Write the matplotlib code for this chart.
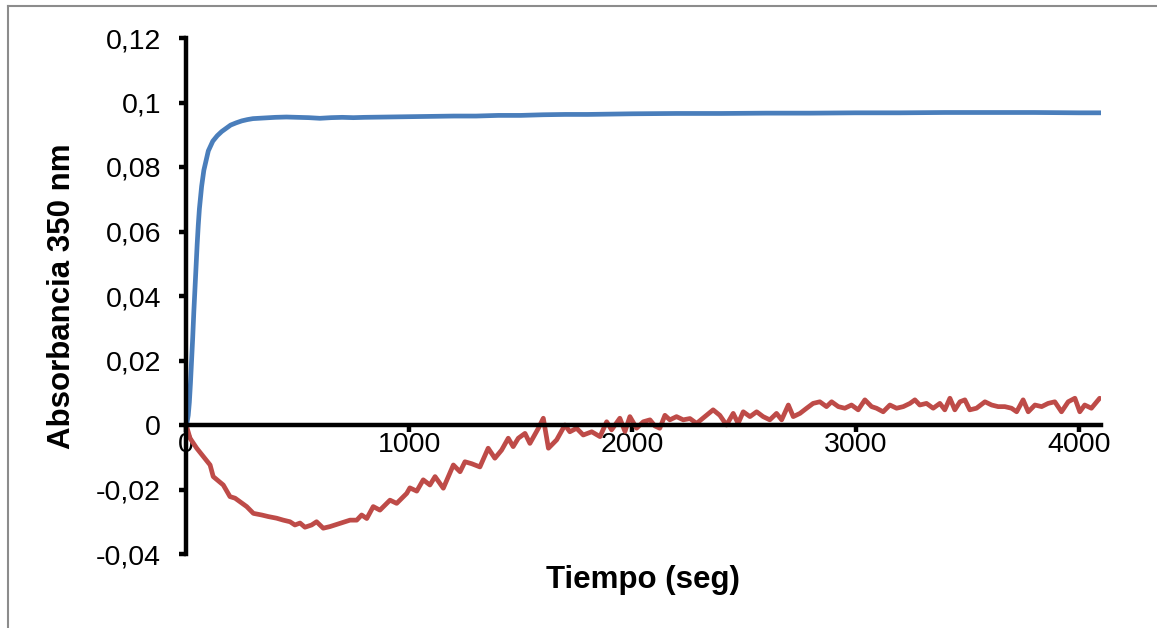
import matplotlib
matplotlib.use("Agg")
import matplotlib.pyplot as plt
from matplotlib.lines import Line2D
import numpy as np

# ---- data ----
blue_t = [0, 5, 10, 15, 20, 25, 30, 35, 40, 45, 50, 55, 60, 70, 80, 90, 100, 120, 140, 160, 180,
          200, 225, 250, 275, 300, 350, 400, 450, 500, 550, 600, 650, 700, 750, 800, 900, 1000,
          1100, 1200, 1300, 1400, 1500, 1600, 1700, 1800, 1900, 2000, 2200, 2400, 2600, 2800,
          3000, 3200, 3400, 3600, 3800, 4000, 4100]
blue_a = [0.0, 0.001, 0.003, 0.007, 0.013, 0.020, 0.027, 0.035, 0.042, 0.049, 0.056, 0.062, 0.067,
          0.074, 0.079, 0.082, 0.085, 0.088, 0.0897, 0.091, 0.092, 0.093, 0.0937, 0.0943, 0.0947,
          0.0950, 0.0952, 0.0954, 0.0955, 0.0954, 0.0953, 0.0951, 0.0953, 0.0954, 0.0953, 0.0954,
          0.0955, 0.0956, 0.0957, 0.0958, 0.0958, 0.0960, 0.0960, 0.0962, 0.0963, 0.0963, 0.0964,
          0.0965, 0.0966, 0.0966, 0.0967, 0.0967, 0.0968, 0.0968, 0.0969, 0.0969, 0.0969, 0.0968,
          0.0968]

red_t = [0, 3, 18, 48, 78, 108, 122, 167, 197, 220, 242, 272, 302, 339, 369, 406, 436, 466, 488,
         511, 533, 563, 585, 615, 645, 690, 735, 765, 787, 810, 839, 869, 914, 944, 989, 1003,
         1034, 1063, 1093, 1116, 1153, 1198, 1228, 1250, 1280, 1317, 1354, 1384, 1414, 1444, 1466,
         1489, 1519, 1541, 1579, 1601, 1624, 1661, 1698, 1720, 1750, 1780, 1818, 1855, 1885, 1907,
         1944, 1967, 1989, 2019, 2049, 2079, 2101, 2123, 2146, 2168, 2198, 2228, 2258, 2288, 2325,
         2362, 2392, 2422, 2452, 2474, 2497, 2527, 2557, 2586, 2616, 2646, 2669, 2699, 2721, 2751,
         2781, 2810, 2840, 2870, 2893, 2923, 2952, 2982, 3012, 3042, 3072, 3094, 3124, 3154, 3184,
         3214, 3244, 3266, 3288, 3318, 3348, 3378, 3400, 3423, 3445, 3468, 3490, 3512, 3542, 3580,
         3610, 3639, 3669, 3699, 3722, 3751, 3774, 3804, 3834, 3863, 3893, 3923, 3953, 3983, 4005,
         4027, 4057, 4094]
red_a = [0.0, -0.0005, -0.0041, -0.0072, -0.0098, -0.0124, -0.0160, -0.0186, -0.0222, -0.0227,
         -0.0238, -0.0253, -0.0274, -0.0279, -0.0284, -0.0289, -0.0295, -0.0300, -0.0310, -0.0304,
         -0.0317, -0.0310, -0.0300, -0.0320, -0.0315, -0.0305, -0.0295, -0.0295, -0.0279, -0.0290,
         -0.0253, -0.0264, -0.0233, -0.0243, -0.0212, -0.0195, -0.0205, -0.0170, -0.0186, -0.0160,
         -0.0196, -0.0124, -0.0145, -0.0114, -0.0120, -0.0130, -0.0072, -0.0103, -0.0078, -0.0041,
         -0.0067, -0.0041, -0.0026, -0.0057, -0.0010, 0.0021, -0.0072, -0.0046, 0.0000, -0.0021,
         -0.0010, -0.0031, -0.0021, -0.0036, 0.0010, -0.0015, 0.0021, -0.0020, 0.0026, -0.0010,
         0.0010, 0.0016, -0.0003, -0.0010, 0.0030, 0.0016, 0.0026, 0.0016, 0.0020, 0.0005, 0.0026,
         0.0047, 0.0030, 0.0000, 0.0036, 0.0005, 0.0041, 0.0026, 0.0041, 0.0026, 0.0016, 0.0036,
         0.0016, 0.0062, 0.0026, 0.0036, 0.0052, 0.0067, 0.0072, 0.0057, 0.0072, 0.0057, 0.0052,
         0.0062, 0.0047, 0.0078, 0.0057, 0.0052, 0.0041, 0.0062, 0.0052, 0.0057, 0.0067, 0.0078,
         0.0062, 0.0067, 0.0052, 0.0067, 0.0047, 0.0083, 0.0047, 0.0072, 0.0078, 0.0047, 0.0052,
         0.0072, 0.0062, 0.0057, 0.0057, 0.0052, 0.0041, 0.0078, 0.0041, 0.0062, 0.0057, 0.0067,
         0.0072, 0.0041, 0.0072, 0.0083, 0.0041, 0.0062, 0.0052, 0.0083]

x_ticks = [0, 1000, 2000, 3000, 4000]
x_tick_labels = ["0", "1000", "2000", "3000", "4000"]
y_ticks = [-0.04, -0.02, 0.0, 0.02, 0.04, 0.06, 0.08, 0.10, 0.12]
y_tick_labels = ["-0,04", "-0,02", "0", "0,02", "0,04", "0,06", "0,08", "0,1", "0,12"]
x_label = "Tiempo (seg)"
y_label = "Absorbancia 350 nm"

# ---- figure ----
plt.rcParams['font.family'] = ['Liberation Sans', 'DejaVu Sans']
W, H = 1157, 628
fig = plt.figure(figsize=(W / 100, H / 100), dpi=100)
fig.patch.set_facecolor('white')

# gray outer frame (top and left edges visible)
fig.add_artist(Line2D([7.5 / W, 1.0], [1 - 5.5 / H, 1 - 5.5 / H], transform=fig.transFigure,
                      color='#8c8c8c', lw=1.5))
fig.add_artist(Line2D([7.5 / W, 7.5 / W], [0.0, 1 - 5.5 / H], transform=fig.transFigure,
                      color='#8c8c8c', lw=1.5))

left, right, top, bottom = 186, 1101, 38, 554
ax = fig.add_axes([left / W, 1 - bottom / H, (right - left) / W, (bottom - top) / H])
ax.set_xlim(0, 4100)
ax.set_ylim(-0.04, 0.12)

ax.plot(blue_t, blue_a, color='#4A7EBB', lw=3.4, solid_joinstyle='round',
        solid_capstyle='round', zorder=3)
ax.plot(red_t, red_a, color='#BE4B48', lw=3.4, solid_joinstyle='round',
        solid_capstyle='round', zorder=3)

for s in ['top', 'right']:
    ax.spines[s].set_visible(False)
ax.spines['left'].set_linewidth(3.2)
ax.spines['bottom'].set_linewidth(3.2)
ax.spines['bottom'].set_position(('data', 0.0))
ax.spines['left'].set_zorder(4)
ax.spines['bottom'].set_zorder(4)

ax.set_xticks(x_ticks)
ax.set_xticklabels(x_tick_labels)
ax.set_yticks(y_ticks)
ax.set_yticklabels(y_tick_labels)
ax.tick_params(axis='both', direction='out', length=5, width=3.2, labelsize=20.5, colors='black')
ax.tick_params(axis='y', pad=13)
ax.tick_params(axis='x', pad=0)

fig.text(643 / W, 1 - 580 / H, x_label, ha='center', va='center', fontsize=22.5, fontweight='bold')
fig.text(62 / W, 1 - 296 / H, y_label, ha='center', va='center', rotation=90, fontsize=22.5,
         fontweight='bold')

fig.savefig('out.png', dpi=100)
